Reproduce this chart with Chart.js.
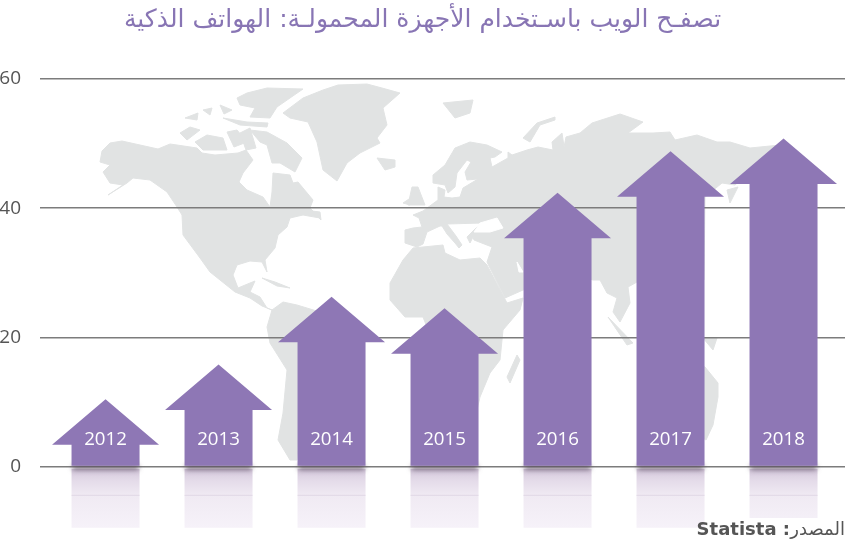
<!DOCTYPE html>
<html lang="ar">
<head>
<meta charset="utf-8">
<title>تصفح الويب</title>
<script src="https://cdn.jsdelivr.net/npm/chart.js@4/dist/chart.umd.min.js"></script>
<style>
  html, body { margin: 0; padding: 0; background: #fff; }
  #wrap { width: 845px; height: 541px; }
</style>
</head>
<body>
<div id="wrap"><canvas id="chart" width="845" height="541"></canvas></div>
<script>
const years = [2012, 2013, 2014, 2015, 2016, 2017, 2018];
const share = [10.4, 15.8, 26.3, 24.5, 42.4, 48.8, 50.8];
const yTicks = [0, 20, 40, 60];
const titleText = "تصفـح الويب باسـتخدام الأجهزة المحمولـة: الهواتف الذكية";

const PURPLE = "#8e77b5";
const MAP_GREY = "#e1e3e3";

// ── background world map (decoration only, page pixels) ──────────────────
const LAND = [
  // north america
  [[102,151],[110,143],[122,141],[140,145],[158,149],[170,144],[177,145],[197,148],[202,153],[215,155],[238,153],[246,150],[253,160],[243,173],[239,182],[247,190],[263,197],[270,207],[272,192],[273,173],[290,175],[293,183],[298,182],[313,200],[310,208],[320,218],[303,215],[290,218],[287,227],[278,235],[275,248],[265,260],[267,272],[262,262],[250,261],[237,265],[233,275],[238,288],[250,283],[255,281],[250,292],[260,297],[267,308],[272,310],[262,306],[250,298],[235,292],[220,280],[210,272],[200,258],[183,235],[182,215],[177,207],[167,192],[150,180],[133,178],[127,183],[108,195],[123,185],[110,183],[103,172],[110,165],[100,162]],
  // south america
  [[272,310],[283,302],[297,305],[320,312],[350,330],[362,345],[345,375],[325,400],[312,425],[298,445],[297,460],[290,460],[278,440],[283,413],[287,370],[270,343],[267,327]],
  // arctic islands
  [[237,98],[247,93],[267,88],[303,89],[290,98],[277,107],[270,118],[250,117],[255,108],[240,105]],
  [[250,130],[267,132],[287,143],[302,158],[295,172],[280,163],[272,163],[267,145],[260,142]],
  [[223,118],[247,122],[268,123],[267,127],[240,125]],
  [[185,118],[198,113],[197,120]],
  [[203,110],[212,108],[210,115]],
  [[220,105],[232,110],[224,114]],
  [[180,133],[190,127],[200,130],[187,140]],
  [[195,142],[207,135],[223,138],[227,150],[203,150]],
  [[227,132],[237,130],[247,142],[234,147]],
  [[240,133],[250,128],[256,148],[246,150]],
  // greenland, iceland
  [[283,113],[303,98],[323,90],[338,85],[367,84],[382,88],[400,93],[383,108],[387,125],[377,138],[380,143],[360,153],[347,163],[337,181],[323,170],[317,142],[308,122],[290,118]],
  [[377,158],[395,160],[395,167],[385,170]],
  // cuba, newfoundland-ish
  [[262,278],[275,282],[290,288],[277,286]],
  [[312,211],[320,212],[321,220]],
  // britain, ireland
  [[412,187],[418,187],[425,205],[408,205]],
  [[403,203],[412,197],[410,205]],
  // eurasia
  [[405,230],[413,228],[422,227],[419,218],[413,215],[423,211],[438,200],[438,187],[445,190],[444,197],[452,198],[460,197],[463,188],[478,179],[467,180],[465,172],[471,162],[467,160],[457,173],[455,187],[448,193],[445,185],[433,183],[433,175],[445,165],[455,148],[470,142],[487,145],[502,152],[495,157],[490,158],[492,167],[508,158],[508,152],[512,155],[527,150],[538,147],[553,150],[552,142],[562,133],[565,153],[562,157],[566,137],[580,133],[592,123],[620,114],[643,122],[628,133],[653,133],[670,132],[675,140],[697,135],[717,142],[730,142],[750,148],[780,145],[775,165],[750,172],[735,185],[722,183],[705,197],[704,280],[637,282],[628,287],[630,303],[620,322],[613,312],[617,298],[607,293],[600,280],[593,280],[575,275],[523,290],[505,298],[487,262],[490,253],[492,247],[474,240],[473,237],[470,243],[467,237],[477,227],[482,223],[447,224],[456,236],[462,245],[459,248],[455,243],[447,234],[442,226],[440,226],[427,232],[423,244],[417,247],[405,243]],
  [[608,317],[633,343],[627,345]],
  [[727,190],[738,187],[730,203]],
  [[703,338],[717,338],[713,350]],
  [[443,103],[473,100],[470,113],[455,118]],
  [[523,138],[537,123],[555,117],[555,120],[540,125],[530,142]],
  // africa, madagascar
  [[413,248],[443,245],[445,253],[460,260],[480,258],[487,265],[507,303],[523,298],[520,310],[503,330],[500,360],[490,373],[480,397],[470,440],[455,420],[445,400],[440,360],[430,335],[423,317],[405,317],[390,300],[390,283],[403,260]],
  [[517,355],[520,360],[510,383],[507,377]],
  // australia
  [[700,365],[705,367],[718,383],[718,397],[713,425],[706,440],[690,430],[680,400]]
];
const SEAS = [
  [[474,232],[480,223],[497,218],[503,228],[490,232]],
  [[517,262],[523,272],[519,272]]
];

const mapPlugin = {
  id: "worldMap",
  beforeDraw(chart) {
    const ctx = chart.ctx;
    const trace = (poly) => {
      ctx.beginPath();
      poly.forEach(([x, y], i) => i ? ctx.lineTo(x, y) : ctx.moveTo(x, y));
      ctx.closePath();
      ctx.fill();
      ctx.stroke();
    };
    ctx.save();
    ctx.lineJoin = "round";
    ctx.lineWidth = 1;
    ctx.fillStyle = ctx.strokeStyle = MAP_GREY;
    LAND.forEach(trace);
    ctx.fillStyle = ctx.strokeStyle = "#fff";
    SEAS.forEach(trace);
    ctx.restore();
  },
};

// ── arrows: one per bar, tip at the bar's value ───────────────────────────
const SHAFT = 34, HEAD = 53.5, HEAD_H = 45.5;
const arrowPlugin = {
  id: "arrows",
  afterDatasetsDraw(chart) {
    const ctx = chart.ctx;
    const bars = chart.getDatasetMeta(0).data;
    ctx.save();
    // reflections
    bars.forEach((b) => {
      const top = b.base + 3, h = 59;
      const g = ctx.createLinearGradient(0, top, 0, top + h);
      g.addColorStop(0, "#d3c7db");
      g.addColorStop(0.2, "#e4dbe9");
      g.addColorStop(0.45, "#f0eaf3");
      g.addColorStop(1, "#f6f2f9");
      ctx.fillStyle = g;
      ctx.fillRect(b.x - SHAFT, top, SHAFT * 2, h);
      ctx.fillStyle = "#e0d8e5";
      ctx.fillRect(b.x - SHAFT, b.base + 29, SHAFT * 2, 1);
      ctx.save();
      ctx.filter = "blur(2.5px)";
      ctx.fillStyle = "rgba(85,70,90,0.75)";
      ctx.fillRect(b.x - SHAFT + 1, b.base - 1, SHAFT * 2 - 2, 5);
      ctx.restore();
    });
    // arrow bodies and year labels
    bars.forEach((b, i) => {
      ctx.fillStyle = PURPLE;
      ctx.beginPath();
      ctx.moveTo(b.x, b.y);
      ctx.lineTo(b.x + HEAD, b.y + HEAD_H);
      ctx.lineTo(b.x + SHAFT, b.y + HEAD_H);
      ctx.lineTo(b.x + SHAFT, b.base);
      ctx.lineTo(b.x - SHAFT, b.base);
      ctx.lineTo(b.x - SHAFT, b.y + HEAD_H);
      ctx.lineTo(b.x - HEAD, b.y + HEAD_H);
      ctx.closePath();
      ctx.fill();
      ctx.fillStyle = "#fff";
      ctx.font = '18.7px "Open Sans"';
      ctx.textAlign = "center";
      ctx.textBaseline = "middle";
      ctx.fillText(String(years[i]), b.x, b.base - 26);
    });
    // source line
    ctx.fillStyle = "#fff";
    ctx.fillRect(705, 518, 140, 23);
    ctx.fillStyle = "#555";
    ctx.textBaseline = "alphabetic";
    ctx.textAlign = "right";
    ctx.font = '18px "DejaVu Sans"';
    ctx.fillText("المصدر", 845, 535);
    ctx.font = 'bold 18px "DejaVu Sans"';
    ctx.fillText("Statista :", 790, 535);
    ctx.restore();
  },
};

new Chart(document.getElementById("chart"), {
  type: "bar",
  data: {
    datasets: [{
      data: years.map((y, i) => ({ x: y, y: share[i] })),
      backgroundColor: "transparent",
      barThickness: 68,
    }],
  },
  plugins: [mapPlugin, arrowPlugin],
  options: {
    responsive: false,
    animation: false,
    layout: { padding: { bottom: 74.5 } },
    plugins: {
      legend: { display: false },
      tooltip: { enabled: false },
      title: {
        display: true,
        text: titleText,
        color: "#8875b4",
        font: { family: '"DejaVu Sans"', size: 25, weight: "normal" },
        padding: { top: 5, bottom: 44 },
      },
    },
    scales: {
      x: { type: "linear", display: false, offset: false, min: 2011.42, max: 2018.544 },
      y: {
        min: 0, max: 60,
        afterBuildTicks: (s) => { s.ticks = yTicks.map((v) => ({ value: v })); },
        afterFit: (s) => { s.width = 40; },
        border: { display: false },
        grid: { color: "#7c7c7c", lineWidth: 1.4, drawTicks: false },
        ticks: { color: "#555", padding: 19, font: { family: '"Open Sans"', size: 19 } },
      },
    },
  },
});
</script>
</body>
</html>
